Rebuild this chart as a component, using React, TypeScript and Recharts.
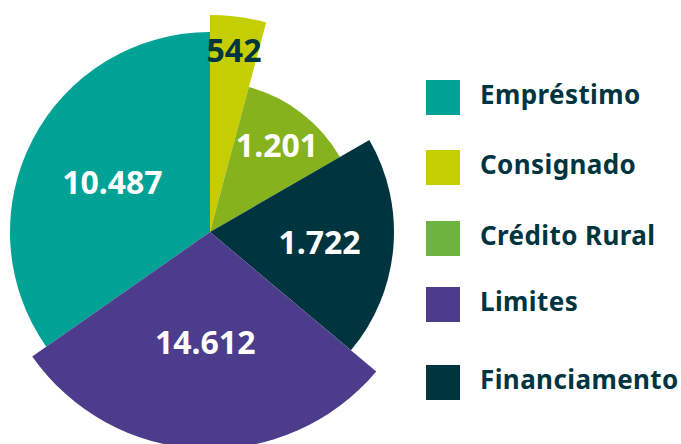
import { Pie, PieChart, Sector } from "recharts";

// order around the pie, clockwise starting at Empréstimo
const CATEGORIES = ["Empréstimo", "Consignado", "Crédito Rural", "Financiamento", "Limites"];
const VALUES = [10487, 542, 1201, 1722, 14612];
// slice angle (degrees) and radius
const ANGLES = [125, 15, 45, 70, 105];
const RADII = [200, 217, 150, 184, 217];
const COLORS = ["#00a295", "#c5ce00", "#86b21e", "#003540", "#4b3c8c"];
const LABEL_COLORS = ["#ffffff", "#00343f", "#ffffff", "#ffffff", "#ffffff"];

const LEGEND_ORDER = ["Empréstimo", "Consignado", "Crédito Rural", "Limites", "Financiamento"];
const LEGEND_COLORS = ["#00a295", "#c5ce00", "#6db33f", "#4b3c8c", "#003540"];
const LEGEND_TOPS = [80, 150, 221, 287, 365];

const data = CATEGORIES.map((name, i) => ({
  name,
  value: VALUES[i],
  angle: ANGLES[i],
  radius: RADII[i],
  fill: COLORS[i],
  labelColor: LABEL_COLORS[i]
}));

const FONT = "'Noto Sans', 'Open Sans', sans-serif";
const RADIAN = Math.PI / 180;
const START = 90 + ANGLES[0];

function renderShape(props: any) {
  const r = props.payload?.radius ?? props.outerRadius;
  return <Sector {...props} outerRadius={r} stroke="none" />;
}

function renderLabel(props: any) {
  const { cx, cy, midAngle, payload } = props;
  const small = payload.angle < 20;
  const r = small ? payload.radius - 33 : 110;
  const x = cx + r * Math.cos(-midAngle * RADIAN);
  const y = cy + r * Math.sin(-midAngle * RADIAN);
  return (
    <text
      x={x}
      y={y}
      fill={payload.labelColor}
      textAnchor="middle"
      dominantBaseline="central"
      fontFamily={FONT}
      fontWeight={700}
      fontSize={32}
    >
      {payload.value.toLocaleString("pt-BR")}
    </text>
  );
}

export default function App() {
  return (
    <div style={{ position: "fixed", left: 0, top: 0, width: 681, height: 444, background: "#fff" }}>
      <PieChart width={681} height={444} margin={{ top: 0, right: 0, bottom: 0, left: 0 }}>
        <Pie
          data={data}
          dataKey="angle"
          nameKey="name"
          cx={210}
          cy={232}
          innerRadius={0}
          outerRadius={217}
          startAngle={START}
          endAngle={START - 360}
          stroke="none"
          shape={renderShape}
          label={renderLabel}
          labelLine={false}
          isAnimationActive={false}
        />
      </PieChart>
      {LEGEND_ORDER.map((name, i) => (
        <div
          key={name}
          style={{ position: "absolute", left: 426, top: LEGEND_TOPS[i], height: 35, display: "flex", alignItems: "center" }}
        >
          <div style={{ width: 34, height: 35, background: LEGEND_COLORS[i] }} />
          <span
            style={{
              position: "relative",
              top: -4,
              marginLeft: 20,
              fontFamily: FONT,
              fontWeight: 700,
              fontSize: 26,
              letterSpacing: 0.4,
              color: "#00343f",
              whiteSpace: "nowrap"
            }}
          >
            {name}
          </span>
        </div>
      ))}
    </div>
  );
}
